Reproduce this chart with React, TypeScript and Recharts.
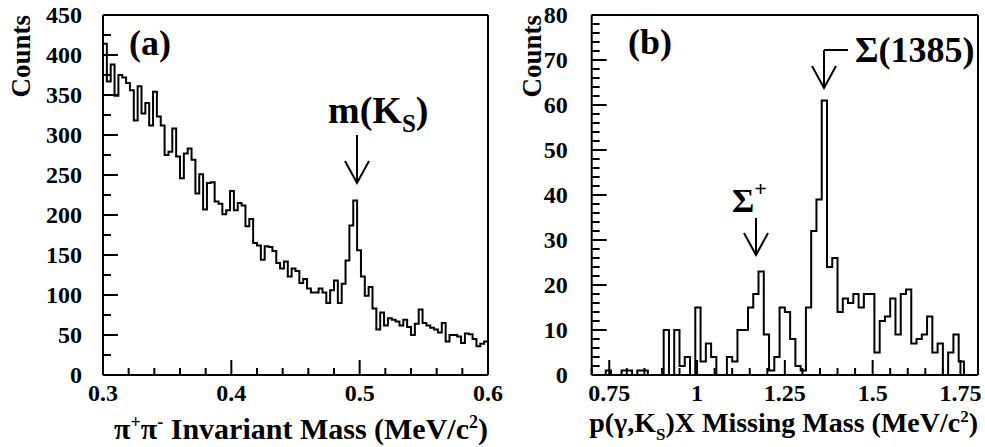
import React from "react";
import { LineChart, Line, XAxis, YAxis, ReferenceLine } from "recharts";

const FONT = "'Liberation Serif', 'Times New Roman', serif";

// (a) pi+ pi- invariant mass, 100 bins of 0.003 from 0.3 to 0.6
const A_START = 0.3;
const A_BIN = 0.003;
const A_COUNTS = [
  414, 367, 388, 349, 375, 372, 365, 356, 318, 361,
  327, 340, 312, 354, 323, 312, 275, 279, 308, 273,
  246, 277, 283, 269, 227, 251, 207, 240, 241, 217,
  214, 201, 206, 230, 206, 215, 212, 186, 195, 165,
  162, 144, 161, 160, 155, 140, 133, 142, 123, 133,
  130, 115, 120, 108, 103, 103, 108, 103, 90, 106,
  118, 90, 114, 143, 187, 218, 156, 123, 99, 110,
  83, 57, 78, 62, 71, 69, 67, 62, 69, 60,
  50, 64, 82, 65, 62, 59, 57, 53, 65, 42,
  50, 50, 48, 40, 52, 51, 45, 36, 39, 42,
];

// (b) missing mass, bins of 0.015 starting at 0.695
const B_START = 0.695;
const B_BIN = 0.015;
const B_COUNTS = [
  0, 0, 0, 1, 0, 0, 1, 1, 0, 1,
  1, 0, 0, 0, 10, 0, 10, 2, 4, 0,
  15, 3, 7, 4, 0, 0, 4, 3, 10, 10,
  15, 18, 23, 9, 1, 4, 15, 14, 8, 2,
  1, 15, 32, 39, 61, 24, 26, 14, 17, 16,
  18, 15, 18, 18, 5, 12, 13, 17, 9, 18,
  19, 7, 8, 9, 13, 5, 7, 0, 5, 9,
  3, 0, 0, 0,
];

const A_X_TICKS = [0.3, 0.32, 0.34, 0.36, 0.38, 0.4, 0.42, 0.44, 0.46, 0.48, 0.5, 0.52, 0.54, 0.56, 0.58, 0.6];
const A_X_LABELS = [0.3, 0.4, 0.5, 0.6];
const A_Y_TICKS = [0, 25, 50, 75, 100, 125, 150, 175, 200, 225, 250, 275, 300, 325, 350, 375, 400, 425, 450];
const A_Y_LABELS = [0, 50, 100, 150, 200, 250, 300, 350, 400, 450];

const B_X_TICKS = [0.7, 0.75, 0.8, 0.85, 0.9, 0.95, 1, 1.05, 1.1, 1.15, 1.2, 1.25, 1.3, 1.35, 1.4, 1.45, 1.5, 1.55, 1.6, 1.65, 1.7, 1.75, 1.8];
const B_X_LABELS = [0.75, 1, 1.25, 1.5, 1.75];
const B_Y_TICKS = [
  0, 2, 4, 6, 8, 10, 12, 14, 16, 18, 20, 22, 24, 26, 28, 30, 32, 34, 36, 38, 40,
  42, 44, 46, 48, 50, 52, 54, 56, 58, 60, 62, 64, 66, 68, 70, 72, 74, 76, 78, 80,
];
const B_Y_LABELS = [0, 10, 20, 30, 40, 50, 60, 70, 80];

// frame geometry (px) of the two panels
const TOP = 15;
const BOTTOM = 375;
const A_RIGHT = 488;
const B_LEFT = 591.7;
const B_RIGHT = 978;

function toHist(counts: number[], start: number, bin: number) {
  const pts = counts.map((v, i) => ({ x: start + i * bin, v }));
  pts.push({ x: start + counts.length * bin, v: counts[counts.length - 1] });
  return pts;
}

const histA = toHist(A_COUNTS, A_START, A_BIN);
const histB = toHist(B_COUNTS, B_START, B_BIN);

// ROOT-style ticks: drawn inward from the axis, labels only on majors
function makeXTick(labels: number[]) {
  return (props: any) => {
    const x = Number(props.x);
    const y = Number(props.y);
    const major = labels.includes(props.payload.value);
    return (
      <g>
        <line x1={x} y1={y} x2={x} y2={y - (major ? 15 : 7)} stroke="#000" strokeWidth={2} />
        {major && (
          <text x={x} y={y + 26} textAnchor="middle" fontFamily={FONT} fontWeight={700} fontSize={24} fill="#000">
            {String(props.payload.value)}
          </text>
        )}
      </g>
    );
  };
}

function makeYTick(labels: number[], gap: number) {
  return (props: any) => {
    const x = Number(props.x);
    const y = Number(props.y);
    const major = labels.includes(props.payload.value);
    return (
      <g>
        <line x1={x} y1={y} x2={x + (major ? 15 : 8)} y2={y} stroke="#000" strokeWidth={2} />
        {major && (
          <text x={x - gap} y={y + 8} textAnchor="end" fontFamily={FONT} fontWeight={700} fontSize={24} fill="#000">
            {String(props.payload.value)}
          </text>
        )}
      </g>
    );
  };
}

function Arrow({ x, y1, y2 }: { x: number; y1: number; y2: number }) {
  return (
    <g stroke="#000" strokeWidth={2} fill="none">
      <line x1={x} y1={y1} x2={x} y2={y2} />
      <polyline points={`${x - 12},${y2 - 22} ${x},${y2} ${x + 12},${y2 - 22}`} />
    </g>
  );
}

function Overlay() {
  const t = { fontFamily: FONT, fontWeight: 700, fill: "#000" } as const;
  return (
    <svg width={985} height={447} style={{ position: "absolute", left: 0, top: 0, pointerEvents: "none" }}>
      <text transform="translate(30,15) rotate(-90)" textAnchor="end" fontSize={27} {...t}>Counts</text>
      <text transform="translate(541,15) rotate(-90)" textAnchor="end" fontSize={27} {...t}>Counts</text>

      <text x={488} y={439} textAnchor="end" fontSize={30} {...t}>
        π<tspan dy={-11} fontSize={18}>+</tspan>
        <tspan dy={11}>π</tspan>
        <tspan dy={-11} fontSize={18}>-</tspan>
        <tspan dy={11}> Invariant Mass (MeV/c</tspan>
        <tspan dy={-11} fontSize={18}>2</tspan>
        <tspan dy={11}>)</tspan>
      </text>
      <text x={978} y={432} textAnchor="end" fontSize={28} {...t}>
        p(γ,K<tspan dy={8} fontSize={17}>S</tspan>
        <tspan dy={-8}>)X Missing Mass (MeV/c</tspan>
        <tspan dy={-10} fontSize={17}>2</tspan>
        <tspan dy={10}>)</tspan>
      </text>

      <text x={129} y={55} fontSize={36} {...t}>(a)</text>
      <text x={628} y={54} fontSize={36} {...t}>(b)</text>

      <text x={328} y={123} fontSize={38} {...t}>
        m(K<tspan dy={9} fontSize={25}>S</tspan>
        <tspan dy={-9}>)</tspan>
      </text>
      <Arrow x={357} y1={135} y2={183} />

      <text x={732} y={212} fontSize={34} {...t}>
        Σ<tspan dy={-16} fontSize={22}>+</tspan>
      </text>
      <Arrow x={756} y1={218} y2={255} />

      <text x={855} y={62} fontSize={36} {...t}>Σ(1385)</text>
      <line x1={824} y1={50} x2={848} y2={50} stroke="#000" strokeWidth={2} />
      <Arrow x={824} y1={50} y2={88} />
    </svg>
  );
}

const axisLineStyle = { stroke: "#000", strokeWidth: 2 };

export default function App() {
  return (
    <div style={{ position: "absolute", left: 0, top: 0, width: 985, height: 447, background: "#fff" }}>
      <div style={{ position: "absolute", left: 0, top: 0 }}>
        <LineChart width={530} height={447} data={histA} margin={{ top: TOP, right: 530 - A_RIGHT, bottom: 0, left: 0 }}>
          <XAxis
            type="number"
            dataKey="x"
            domain={[0.3, 0.6]}
            allowDataOverflow
            ticks={A_X_TICKS}
            interval={0}
            tickSize={0}
            tickMargin={0}
            tickLine={false}
            axisLine={axisLineStyle}
            tick={makeXTick(A_X_LABELS)}
            height={447 - BOTTOM}
          />
          <YAxis
            type="number"
            domain={[0, 450]}
            allowDataOverflow
            ticks={A_Y_TICKS}
            interval={0}
            tickSize={0}
            tickMargin={0}
            tickLine={false}
            axisLine={axisLineStyle}
            tick={makeYTick(A_Y_LABELS, 21)}
            width={103}
          />
          <ReferenceLine y={450} stroke="#000" strokeWidth={2} />
          <ReferenceLine x={0.6} stroke="#000" strokeWidth={2} />
          <Line type="stepAfter" dataKey="v" stroke="#000" strokeWidth={2} dot={false} isAnimationActive={false} />
        </LineChart>
      </div>
      <div style={{ position: "absolute", left: 500, top: 0 }}>
        <LineChart width={485} height={447} data={histB} margin={{ top: TOP, right: 985 - B_RIGHT, bottom: 0, left: 0 }}>
          <XAxis
            type="number"
            dataKey="x"
            domain={[0.7, 1.8]}
            allowDataOverflow
            ticks={B_X_TICKS}
            interval={0}
            tickSize={0}
            tickMargin={0}
            tickLine={false}
            axisLine={axisLineStyle}
            tick={makeXTick(B_X_LABELS)}
            height={447 - BOTTOM}
          />
          <YAxis
            type="number"
            domain={[0, 80]}
            allowDataOverflow
            ticks={B_Y_TICKS}
            interval={0}
            tickSize={0}
            tickMargin={0}
            tickLine={false}
            axisLine={axisLineStyle}
            tick={makeYTick(B_Y_LABELS, 24)}
            width={B_LEFT - 500}
          />
          <ReferenceLine y={80} stroke="#000" strokeWidth={2} />
          <ReferenceLine x={1.8} stroke="#000" strokeWidth={2} />
          <Line type="stepAfter" dataKey="v" stroke="#000" strokeWidth={2} dot={false} isAnimationActive={false} />
        </LineChart>
      </div>
      <Overlay />
    </div>
  );
}
